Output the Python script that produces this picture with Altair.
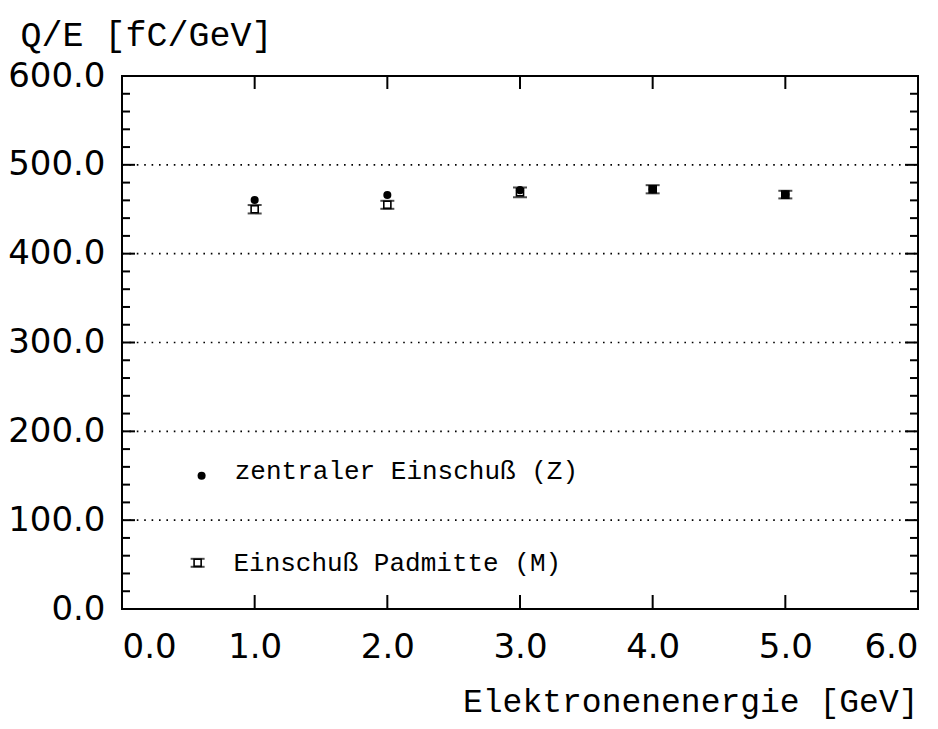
import altair as alt
import pandas as pd

# ---- data ----
energy = [1.0, 2.0, 3.0, 4.0, 5.0]
q_z = [460.5, 466.0, 471.5, 472.5, 466.5]          # zentraler Einschuss (Z)
q_m = [450.0, 455.0, 469.0, 472.5, 466.5]          # Einschuss Padmitte (M)
err_m = [4.7, 4.5, 5.5, 4.6, 4.3]

x_ticks = [0, 1, 2, 3, 4, 5, 6]
y_major = [0, 100, 200, 300, 400, 500, 600]
y_minor = [v for v in range(20, 600, 20) if v % 100 != 0]
grid_vals = [100, 200, 300, 400, 500]

legend_labels = ["zentraler Einschuß (Z)", "Einschuß Padmitte (M)"]
legend_sym_x = [0.60, 0.57]
legend_sym_y = [150.0, 52.0]
legend_text_x = [0.85, 0.84]
legend_text_y = [155.0, 52.0]
legend_err = 4.5

W, H = 796, 533
MONO = "Liberation Mono"
SANS = "DejaVu Sans"

xs = alt.Scale(domain=[0, 6], nice=False, zero=False)
ys = alt.Scale(domain=[0, 600], nice=False, zero=False)

XAX = alt.Axis(
    values=x_ticks, format=".1f", ticks=False, domain=False, grid=False,
    labelFont=SANS, labelFontSize=34, labelColor="black", labelPadding=21,
    title="Elektronenenergie [GeV]", titleFont=MONO, titleFontSize=33,
    titleFontWeight="normal", titleColor="black", titleX=W, titleY=102,
    titleAlign="right", titleBaseline="alphabetic", titleAngle=0)
YAX = alt.Axis(
    values=y_major, format=".1f", ticks=False, domain=False, grid=False,
    labelFont=SANS, labelFontSize=34, labelColor="black", labelPadding=17,
    title="Q/E [fC/GeV]", titleFont=MONO, titleFontSize=35,
    titleFontWeight="normal", titleColor="black", titleAngle=0,
    titleX=-102, titleY=-31, titleAlign="left", titleBaseline="alphabetic")


def X(f):
    return alt.X(f, type="quantitative", scale=xs, axis=XAX, title="Elektronenenergie [GeV]")


def Y(f):
    return alt.Y(f, type="quantitative", scale=ys, axis=YAX, title="Q/E [fC/GeV]")


z_df = pd.DataFrame({"E": energy + [legend_sym_x[0]], "Q": q_z + [legend_sym_y[0]]})
m_df = pd.DataFrame({"E": energy + [legend_sym_x[1]],
                     "Q": q_m + [legend_sym_y[1]],
                     "err": err_m + [legend_err]})
m_df["lo"] = m_df["Q"] - m_df["err"]
m_df["hi"] = m_df["Q"] + m_df["err"]
leg_df = pd.DataFrame({"x": legend_text_x, "y": legend_text_y, "t": legend_labels})

ymaj_df = pd.DataFrame({"v": y_major})
ymin_df = pd.DataFrame({"v": y_minor})
grid_df = pd.DataFrame({"v": grid_vals})
xt_df = pd.DataFrame({"v": x_ticks})

grid = alt.Chart(grid_df).mark_rule(color="black", strokeWidth=1.6, strokeDash=[1.6, 5.8]).encode(
    y=Y("v"), x=alt.value(0), x2=alt.value(W))


def yticks(df, x0, x1):
    return alt.Chart(df).mark_rule(color="black", strokeWidth=2).encode(
        y=Y("v"), x=alt.value(x0), x2=alt.value(x1))


def xticks(y0, y1):
    return alt.Chart(xt_df).mark_rule(color="black", strokeWidth=2).encode(
        x=X("v"), y=alt.value(y0), y2=alt.value(y1))


tick_layers = [
    yticks(ymaj_df, 0, 13), yticks(ymaj_df, W - 13, W),
    yticks(ymin_df, 0, 8), yticks(ymin_df, W - 8, W),
    xticks(H - 14, H), xticks(0, 13),
]

z_pts = alt.Chart(z_df).mark_circle(color="black", opacity=1, size=65).encode(
    x=X("E"), y=Y("Q"))

m_lo = alt.Chart(m_df).mark_tick(color="black", orient="horizontal", size=14, thickness=2).encode(
    x=X("E"), y=Y("lo"))
m_hi = alt.Chart(m_df).mark_tick(color="black", orient="horizontal", size=14, thickness=2).encode(
    x=X("E"), y=Y("hi"))
m_box = alt.Chart(m_df).mark_point(shape="square", filled=False, color="black", size=50,
                                   strokeWidth=1.6, opacity=1).encode(
    x=X("E"), y=Y("Q"))

leg_text = alt.Chart(leg_df).mark_text(font=MONO, fontSize=26, align="left",
                                       baseline="middle", color="black").encode(
    x=X("x"), y=Y("y"), text="t:N")

chart = alt.layer(grid, *tick_layers, z_pts, m_lo, m_hi, m_box, leg_text).properties(
    width=W, height=H,
    autosize=alt.AutoSizeParams(type="none"),
    padding={"left": 114, "top": 68, "right": 12, "bottom": 112},
    background="white",
).configure_view(stroke="black", strokeWidth=2)

chart.save("out.html", embed_options={"renderer": "svg", "actions": False})
